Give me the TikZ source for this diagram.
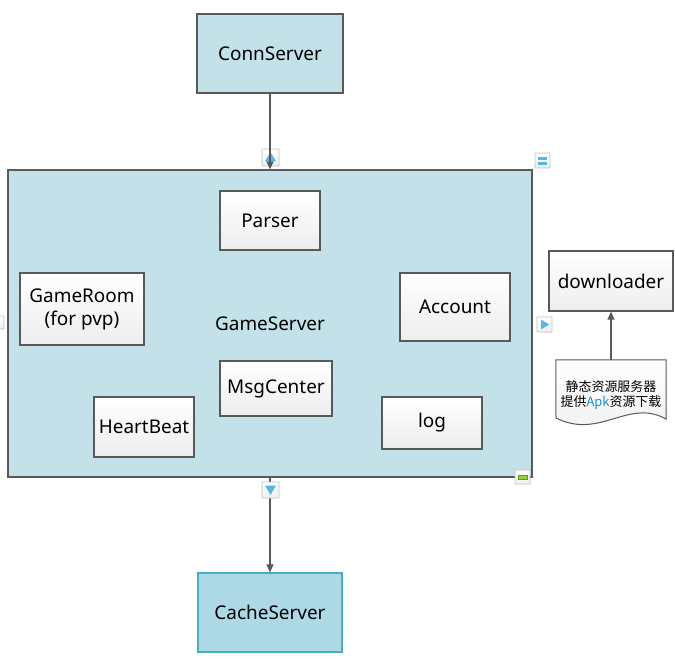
\documentclass[tikz,border=0pt]{standalone}
\usepackage{fontspec}
\setmainfont{Noto Sans}
\newfontfamily\cjkfont{Noto Sans CJK SC}
\usetikzlibrary{arrows.meta}
\definecolor{srvfill}{RGB}{194,225,233}
\definecolor{cachefill}{RGB}{173,216,230}
\definecolor{cacheline}{RGB}{75,172,198}
\definecolor{edge}{RGB}{89,89,89}
\definecolor{iconblue}{RGB}{84,184,230}
\definecolor{icongreen}{RGB}{140,216,58}
\definecolor{apkblue}{RGB}{30,140,215}
\tikzset{
  srv/.style={draw=edge, fill=srvfill, line width=1.2bp, inner sep=0pt, font=\fontsize{19}{23}\selectfont},
  cache/.style={draw=cacheline, fill=cachefill, line width=1.2bp, inner sep=0pt, font=\fontsize{19}{23}\selectfont},
  module/.style={draw=edge, line width=1.2bp, top color=white, bottom color=black!7, inner sep=0pt, align=center, font=\fontsize{19}{23}\selectfont},
  arr/.style={draw=edge, line width=1.1bp, -{Triangle[length=8bp,width=7bp]}},
  iconbox/.style={draw=black!25, line width=0.8bp, top color=white, bottom color=black!6, rounded corners=0.8bp},
}
\begin{document}
\begin{tikzpicture}[x=1bp,y=-1bp]
\useasboundingbox (0,0) rectangle (675,669);
% partial icon on left edge
\draw[iconbox] (-10,316) rectangle (4,329);
% containers
\node[srv, minimum width=146bp, minimum height=79bp] (conn) at (270,53.5) {ConnServer};
\node[srv, minimum width=524bp, minimum height=307bp] (game) at (270,323.5) {GameServer};
\node[cache, minimum width=144bp, minimum height=79bp] (cache) at (270,612.5) {CacheServer};
% modules
\node[module, minimum width=100bp, minimum height=59bp] (parser) at (270,220.5) {Parser};
\node[module, minimum width=124bp, minimum height=72bp] (room) at (82,309) {GameRoom\\(for pvp)};
\node[module, minimum width=110bp, minimum height=68bp] (account) at (455,307) {Account};
\node[module, minimum width=112bp, minimum height=55bp] (msg) at (276,388.5) {MsgCenter};
\node[module, minimum width=100bp, minimum height=60bp] (heart) at (144,427) {HeartBeat};
\node[module, minimum width=100bp, minimum height=52bp] (log) at (432,423) {log};
\node[module, minimum width=124bp, minimum height=60bp] (down) at (611,281) {downloader};
% document shape
\node[minimum width=110bp, minimum height=59bp, inner sep=0pt] (doc) at (611,389.5) {};
\draw[draw=edge, line width=1bp, top color=white, bottom color=black!6]
  (doc.north west) -- (doc.north east) -- (666,419)
  .. controls (628,398) and (600,440) .. (556,418) -- cycle;
\node[align=center, font=\cjkfont\fontsize{13}{16}\selectfont, inner sep=0pt] (doctext) at (611,395)
  {静态资源服务器\\提供\textcolor{apkblue}{Apk}资源下载};
% icons (top)
\draw[iconbox] (262,149) rectangle (279,166);
\fill[iconblue] (270.5,152.5) -- (276,161) -- (265,161) -- cycle;
% connectors
\draw[arr] (conn.south) -- (game.north);
\draw[arr] (game.south) -- (cache.north);
\draw[arr] (doc.north) -- (down.south);
% icon bottom
\draw[iconbox] (262,482) rectangle (279,498);
\fill[iconblue] (265,485.5) -- (276,485.5) -- (270.5,495) -- cycle;
% list icon
\draw[iconbox] (535,153) rectangle (550,168);
\fill[iconblue] (538,156.5) rectangle (547,159.5);
\fill[iconblue] (538,161.5) rectangle (547,164.5);
% green minus icon
\draw[iconbox] (515,470) rectangle (530,484);
\draw[fill=icongreen, draw=icongreen!70!black, line width=0.6bp] (518,475) rectangle (527,479);
% right arrow icon
\draw[iconbox] (537,317) rectangle (552,332);
\fill[iconblue] (541,319.5) -- (549,324.5) -- (541,329.5) -- cycle;
\end{tikzpicture}
\end{document}
